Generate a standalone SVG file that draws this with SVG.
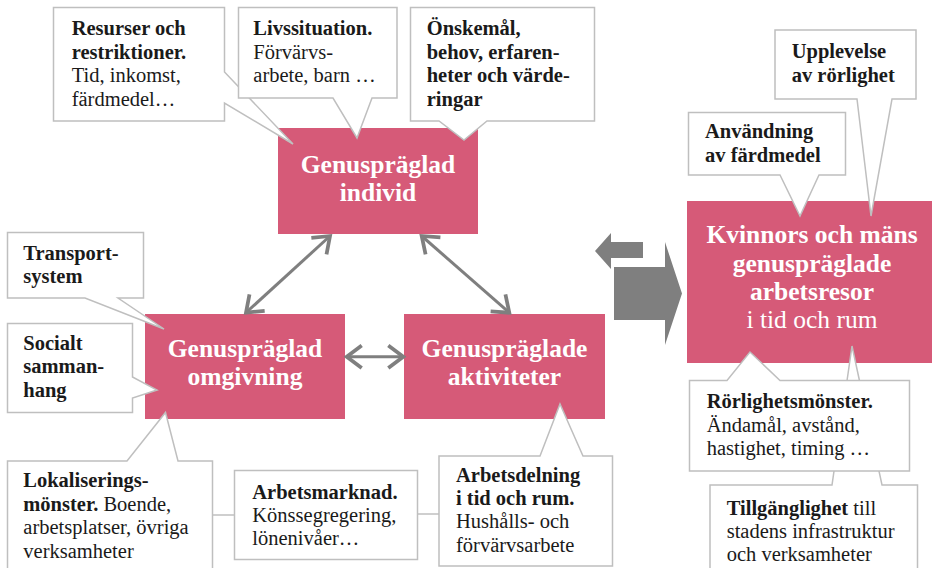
<svg xmlns="http://www.w3.org/2000/svg" width="932" height="568" viewBox="0 0 932 568">
<style>
  .pink { fill: #d65a78; }
  .pt { font-family: "Liberation Serif", "Times New Roman", serif; font-size: 25.5px; font-weight: bold; fill: #ffffff; text-anchor: middle; }
  .pr { font-weight: normal; }
  .co { fill: #ffffff; stroke: #bfbfbf; stroke-width: 1.5; stroke-linejoin: miter; }
  .ct { font-family: "Liberation Serif", "Times New Roman", serif; font-size: 20.5px; fill: #1a1a1a; }
  .b { font-weight: bold; }
  .link { stroke: #bfbfbf; stroke-width: 1.5; fill: none; }
  .arr { stroke: #7f7f7f; stroke-width: 3; fill: none; marker-start: url(#chev); marker-end: url(#chev); }
  .block { fill: #7f7f7f; }
</style>
<defs>
  <marker id="chev" markerUnits="userSpaceOnUse" markerWidth="30" markerHeight="30" viewBox="-16 -12 20 24" refX="0" refY="0" orient="auto-start-reverse">
    <path d="M-12,-9 L0,0 L-12,9" fill="none" stroke="#7f7f7f" stroke-width="3"/>
  </marker>
</defs>

<g id="individ">
  <rect class="pink" x="278" y="128" width="200" height="106"/>
  <text class="pt" x="378" y="172.7">Genuspräglad</text>
  <text class="pt" x="378" y="201">individ</text>
</g>
<g id="omgivning">
  <rect class="pink" x="145" y="314" width="200" height="105"/>
  <text class="pt" x="245" y="357.3">Genuspräglad</text>
  <text class="pt" x="245" y="385">omgivning</text>
</g>
<g id="aktiviteter">
  <rect class="pink" x="404" y="314" width="201" height="105"/>
  <text class="pt" x="504.5" y="357.3">Genuspräglade</text>
  <text class="pt" x="504.5" y="385">aktiviteter</text>
</g>
<g id="arbetsresor">
  <rect class="pink" x="687" y="201" width="250" height="162"/>
  <text class="pt" x="812" y="243.3">Kvinnors och mäns</text>
  <text class="pt" x="812" y="271.7">genuspräglade</text>
  <text class="pt" x="812" y="300">arbetsresor</text>
  <text class="pt pr" x="812" y="328.3">i tid och rum</text>
</g>

<g id="connectors">
  <line class="arr" x1="330" y1="236" x2="246" y2="312.7"/>
  <line class="arr" x1="421.7" y1="236" x2="509.3" y2="312.7"/>
  <line class="arr" x1="346.7" y1="356.7" x2="403.3" y2="356.7"/>
  <polygon class="block" points="595,251 611,233 611,242 643,242 643,258 611,258 611,269"/>
  <polygon class="block" points="614,267 665,267 665,242 682,293.5 665,345 665,320 614,320"/>
  <line class="link" x1="212.5" y1="515" x2="234.5" y2="515"/>
  <line class="link" x1="417.5" y1="514" x2="439" y2="514"/>
</g>

<g id="resurser">
  <path class="co" d="M53.5,7.5 H224.5 V72 L293,144 L224.5,103 V121 H53.5 Z"/>
  <text class="ct" x="71.7" y="35"><tspan class="b">Resurser och</tspan><tspan class="b" x="71.7" y="58.5">restriktioner.</tspan><tspan x="71.7" y="82">Tid, inkomst,</tspan><tspan x="71.7" y="105.5">färdmedel…</tspan></text>
</g>
<g id="livssituation">
  <path class="co" d="M238.5,7.5 H397 V98 H372 L357,138 L333,98 H238.5 Z"/>
  <text class="ct" x="253.3" y="35"><tspan class="b">Livssituation.</tspan><tspan x="253.3" y="58.5">Förvärvs-</tspan><tspan x="253.3" y="82">arbete, barn …</tspan></text>
</g>
<g id="onskemal">
  <path class="co" d="M410.5,7.5 H594.5 V121 H487 L464,140 L439,121 H410.5 Z"/>
  <text class="ct b" x="426.7" y="35"><tspan>Önskemål,</tspan><tspan x="426.7" y="58.5">behov, erfaren-</tspan><tspan x="426.7" y="82">heter och värde-</tspan><tspan x="426.7" y="105.5">ringar</tspan></text>
</g>
<g id="transportsystem">
  <path class="co" d="M7.5,232.5 H143.5 V298 H118 L164,329 L85,298 H7.5 Z"/>
  <text class="ct b" x="23.3" y="260"><tspan>Transport-</tspan><tspan x="23.3" y="283.3">system</tspan></text>
</g>
<g id="socialt">
  <path class="co" d="M7.5,323.5 H132.5 V377 L157,390 L132.5,398 V412.5 H7.5 Z"/>
  <text class="ct b" x="23.3" y="350"><tspan>Socialt</tspan><tspan x="23.3" y="373.3">samman-</tspan><tspan x="23.3" y="396.7">hang</tspan></text>
</g>
<g id="lokalisering">
  <path class="co" d="M7.5,575 V461 H127 L165.5,412.5 L178,461 H212.5 V575"/>
  <text class="ct" x="23.3" y="487.3"><tspan class="b">Lokaliserings-</tspan><tspan class="b" x="23.3" y="511">mönster.</tspan><tspan> Boende,</tspan><tspan x="23.3" y="534.3">arbetsplatser, övriga</tspan><tspan x="23.3" y="558">verksamheter</tspan></text>
</g>
<g id="arbetsmarknad">
  <rect class="co" x="234.5" y="470.5" width="183" height="89"/>
  <text class="ct" x="252.3" y="499"><tspan class="b">Arbetsmarknad.</tspan><tspan x="252.3" y="522">Könssegregering,</tspan><tspan x="252.3" y="545">lönenivåer…</tspan></text>
</g>
<g id="arbetsdelning">
  <path class="co" d="M439,456 H540 L560,404 L583,456 H612.5 V566 H439 Z"/>
  <text class="ct" x="456" y="481.7"><tspan class="b">Arbetsdelning</tspan><tspan class="b" x="456" y="505">i tid och rum.</tspan><tspan x="456" y="528.4">Hushålls- och</tspan><tspan x="456" y="551.8">förvärvsarbete</tspan></text>
</g>
<g id="upplevelse">
  <path class="co" d="M775,30 H916 V99 H892 L871,216 L857,99 H775 Z"/>
  <text class="ct b" x="791.7" y="58.3"><tspan>Upplevelse</tspan><tspan x="791.7" y="81.7">av rörlighet</tspan></text>
</g>
<g id="anvandning">
  <path class="co" d="M688.5,112.5 H845.5 V175 H819 L800,216 L780,175 H688.5 Z"/>
  <text class="ct b" x="705" y="138.3"><tspan>Användning</tspan><tspan x="705" y="161.7">av färdmedel</tspan></text>
</g>
<g id="tillganglighet">
  <path class="co" d="M710,580 V485 H832 L852,346 L882,485 H917.5 V580"/>
  <text class="ct" x="726.7" y="515"><tspan class="b">Tillgänglighet</tspan><tspan> till</tspan><tspan x="726.7" y="538.3">stadens infrastruktur</tspan><tspan x="726.7" y="561">och verksamheter</tspan></text>
</g>
<g id="rorlighetsmonster">
  <path class="co" d="M689.5,380.5 H727 L750,352 L780,380.5 H909.5 V471 H689.5 Z"/>
  <text class="ct" x="706.7" y="408.3"><tspan class="b">Rörlighetsmönster.</tspan><tspan x="706.7" y="431.7">Ändamål, avstånd,</tspan><tspan x="706.7" y="455">hastighet, timing …</tspan></text>
</g>
</svg>
